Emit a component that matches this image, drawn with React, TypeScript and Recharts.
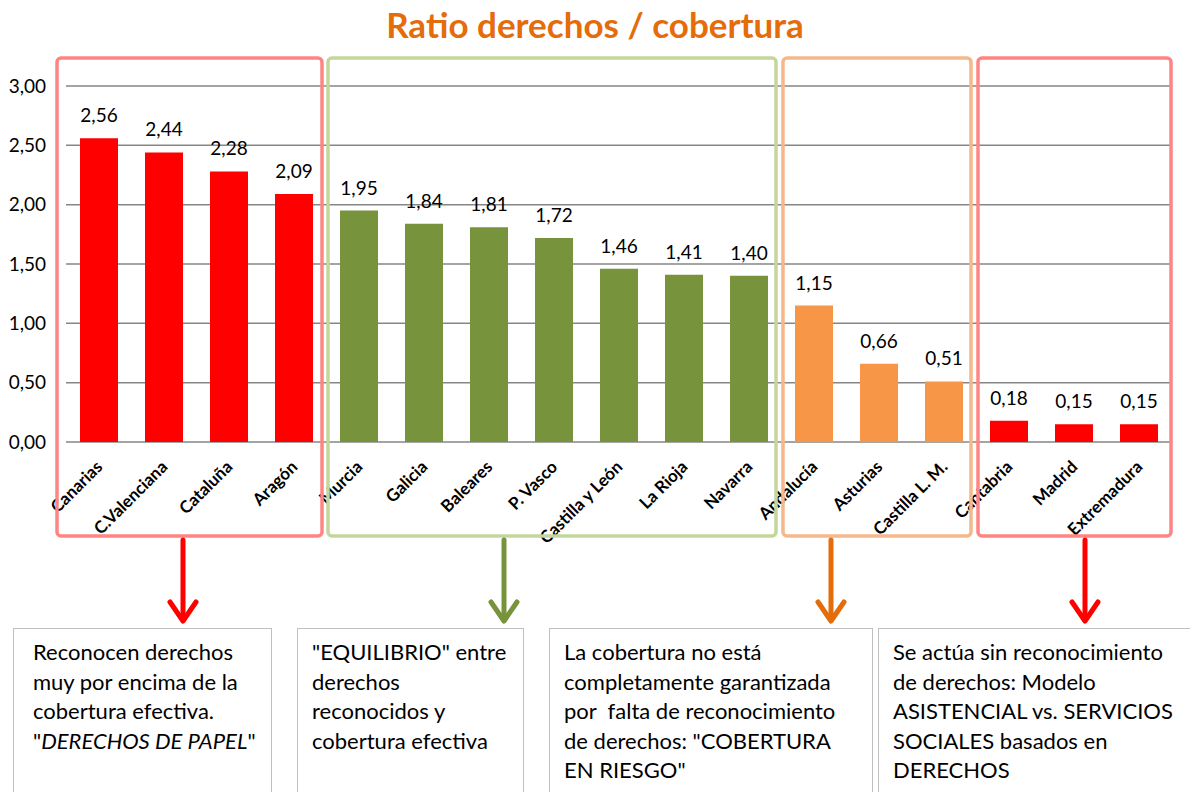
import { BarChart, Bar, XAxis, YAxis, CartesianGrid, Cell, LabelList } from 'recharts';

const regions = [
  'Canarias', 'C.Valenciana', 'Cataluña', 'Aragón',
  'Murcia', 'Galicia', 'Baleares', 'P. Vasco', 'Castilla y León', 'La Rioja', 'Navarra',
  'Andalucía', 'Asturias', 'Castilla L. M.',
  'Cantabria', 'Madrid', 'Extremadura',
];
const ratios = [2.56, 2.44, 2.28, 2.09, 1.95, 1.84, 1.81, 1.72, 1.46, 1.41, 1.40, 1.15, 0.66, 0.51, 0.18, 0.15, 0.15];
const groups = ['papel', 'papel', 'papel', 'papel', 'equilibrio', 'equilibrio', 'equilibrio', 'equilibrio', 'equilibrio', 'equilibrio', 'equilibrio', 'riesgo', 'riesgo', 'riesgo', 'asistencial', 'asistencial', 'asistencial'];
const yTicks = [0, 0.5, 1, 1.5, 2, 2.5, 3];

const barColors: Record<string, string> = {
  papel: '#FF0000',
  equilibrio: '#77933C',
  riesgo: '#F79646',
  asistencial: '#FF0000',
};

const data = regions.map((r, i) => ({ region: r, ratio: ratios[i], group: groups[i] }));

const FONT = 'Lato, "Noto Sans", sans-serif';
const fmt = (v: number) => v.toFixed(2).replace('.', ',');

const RotatedTick = ({ x, y, payload }: any) => (
  <g transform={`translate(${x + 5},${y + 18})`}>
    <text transform="rotate(-45)" textAnchor="end" fontSize={17} fontWeight={700} fill="#000" fontFamily={FONT}>
      {payload.value}
    </text>
  </g>
);

// group frames, arrows and the note boxes under the chart
const frames = [
  { x: 57, w: 265, color: '#FF8585' },
  { x: 328, w: 448, color: '#C3D69B' },
  { x: 783, w: 188, color: '#F5B88A' },
  { x: 978, w: 193, color: '#FF8585' },
];
const arrows = [
  { x: 183, color: '#FF0000' },
  { x: 504, color: '#77933C' },
  { x: 831, color: '#E46C0A' },
  { x: 1085, color: '#FF0000' },
];
const notes = [
  { x: 13, w: 259, pad: 19, lines: ['Reconocen derechos', 'muy por encima de la', 'cobertura efectiva.', 'italic'] },
  { x: 297, w: 227, pad: 14, lines: ['"EQUILIBRIO" entre', 'derechos', 'reconocidos y', 'cobertura efectiva'] },
  { x: 549, w: 324, pad: 14, lines: ['La cobertura no está', 'completamente garantizada', 'por  falta de reconocimiento', 'de derechos: "COBERTURA', 'EN RIESGO"'] },
  { x: 878, w: 320, pad: 14, lines: ['Se actúa sin reconocimiento', 'de derechos: Modelo', 'ASISTENCIAL vs. SERVICIOS', 'SOCIALES basados en', 'DERECHOS'] },
];

export default function App() {
  return (
    <div style={{ position: 'absolute', left: 0, top: 0, width: 1190, height: 792, background: '#fff', fontFamily: FONT, overflow: 'hidden' }}>
      <div style={{ position: 'absolute', left: 0, top: 3, width: 1190, textAlign: 'center', fontSize: 35, fontWeight: 700, color: '#E46C0A' }}>
        Ratio derechos / cobertura
      </div>
      <div style={{ position: 'absolute', left: 0, top: 0 }}>
        <BarChart width={1190} height={560} data={data} margin={{ top: 86, right: 19, bottom: 0, left: 0 }} barSize={38}>
          <CartesianGrid vertical={false} stroke="#868686" strokeWidth={1.5} />
          <XAxis dataKey="region" axisLine={false} tickLine={false} height={118} interval={0} tick={<RotatedTick />} />
          <YAxis
            domain={[0, 3]}
            ticks={yTicks}
            axisLine={false}
            tickLine={false}
            width={66}
            tickFormatter={fmt}
            tick={{ fill: '#000', fontSize: 19, fontFamily: FONT }}
            tickMargin={14}
          />
          <Bar dataKey="ratio" isAnimationActive={false}>
            {data.map((d, i) => (
              <Cell key={i} fill={barColors[d.group]} />
            ))}
            <LabelList dataKey="ratio" position="top" offset={16} formatter={(v: any) => fmt(Number(v))} style={{ fill: '#000', fontSize: 19, fontFamily: FONT }} />
          </Bar>
        </BarChart>
      </div>
      <svg width={1190} height={792} style={{ position: 'absolute', left: 0, top: 0, pointerEvents: 'none' }}>
        {frames.map((f, i) => (
          <rect key={i} x={f.x} y={58} width={f.w} height={478} rx={4} fill="none" stroke={f.color} strokeWidth={3.5} />
        ))}
        {arrows.map((a, i) => (
          <g key={i} stroke={a.color} strokeWidth={5} fill="none" strokeLinecap="round" strokeLinejoin="round">
            <line x1={a.x} y1={540} x2={a.x} y2={620} />
            <polyline points={`${a.x - 13},${602} ${a.x},${621} ${a.x + 13},${602}`} />
          </g>
        ))}
      </svg>
      {notes.map((n, i) => (
        <div
          key={i}
          style={{
            position: 'absolute',
            left: n.x,
            top: 628,
            width: n.w,
            height: 200,
            border: '1.5px solid #BFBFBF',
            boxSizing: 'border-box',
            padding: `8px 0 0 ${n.pad}px`,
            fontSize: 22,
            lineHeight: '29.5px',
            color: '#000',
            background: '#fff',
          }}
        >
          {n.lines.map((l, j) =>
            l === 'italic' ? (
              <div key={j}>"<i>DERECHOS DE PAPEL</i>"</div>
            ) : (
              <div key={j} style={{ whiteSpace: 'pre' }}>{l}</div>
            )
          )}
        </div>
      ))}
    </div>
  );
}
